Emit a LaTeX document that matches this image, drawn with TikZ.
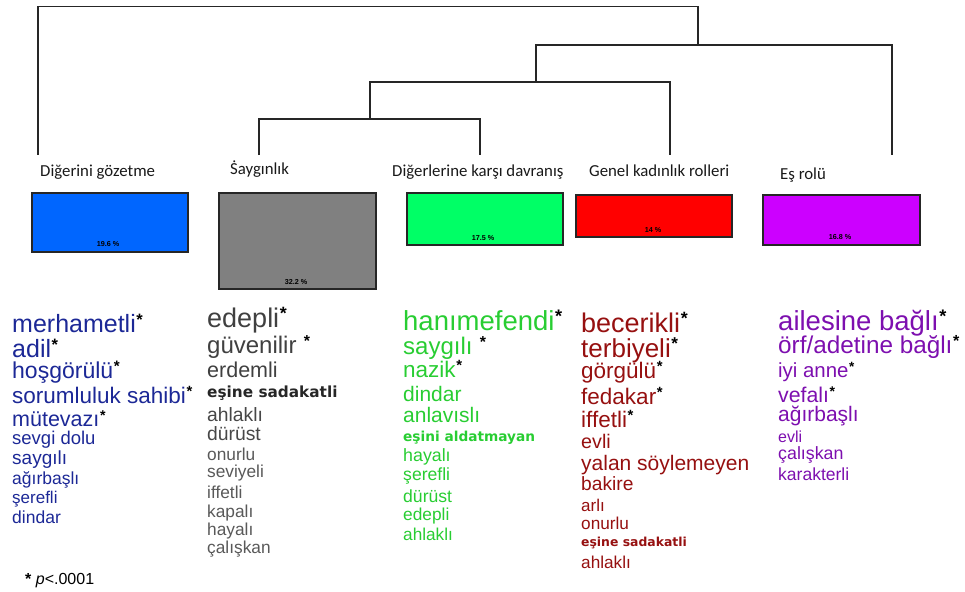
\documentclass[tikz,border=0pt]{standalone}
\usepackage{fontspec}
\setmainfont{Liberation Sans}
\newfontfamily\calfont{Carlito}
\newfontfamily\tahfont{DejaVu Sans}
\definecolor{cblue}{RGB}{0,102,255}
\definecolor{cgray}{RGB}{128,128,128}
\definecolor{cgreen}{RGB}{0,255,102}
\definecolor{cred}{RGB}{255,0,0}
\definecolor{cpurple}{RGB}{204,0,255}
\definecolor{tblue}{RGB}{28,40,150}
\definecolor{tgray}{RGB}{64,64,64}
\definecolor{tgreen}{RGB}{40,205,50}
\definecolor{tred}{RGB}{150,16,16}
\definecolor{tpurple}{RGB}{125,15,175}
\newcommand{\st}{\kern0.6pt\raisebox{0.27em}{\scalebox{0.66}{\color{black}\bfseries *}}}
\newcommand{\fs}[1]{\fontsize{#1}{#1}\selectfont}
\tikzset{
  tree/.style={line width=1.3pt, black!85},
  heading/.style={anchor=base west, inner sep=0pt, text=black!90, font=\calfont\fs{16.8}},
  catbox/.style={draw=black!85, line width=1.4pt},
  pct/.style={inner sep=0pt, font=\bfseries\fs{7.2}},
  word/.style={anchor=base west, inner sep=0pt},
}
\begin{document}
\begin{tikzpicture}[x=1pt,y=-1pt]
\useasboundingbox (0,0) rectangle (965,591);
% headings
\node[heading] (h1) at (40,176) {Diğerini gözetme};
\node[heading] (h2) at (230,174) {Ṡaygınlık};
\node[heading] (h3) at (392,176) {Diğerlerine karşı davranış};
\node[heading] (h4) at (589,176) {Genel kadınlık rolleri};
\node[heading] (h5) at (780,179) {Eş rolü};
% dendrogram leaf tops
\coordinate (l1) at (38,155);
\coordinate (l2) at (259,155);
\coordinate (l3) at (480,155);
\coordinate (l4) at (670,155);
\coordinate (l5) at (892,155);
\coordinate (m23) at (370,119);
\coordinate (m234) at (536,82);
\coordinate (m2345) at (698,45);
\coordinate (top) at (0,6.5);
\draw[tree] (l2) |- (m23 |- 0,119) -| (l3);
\draw[tree, line width=1.8pt] (l2 |- 0,119) -- (l3 |- 0,119);
\draw[tree] (m23) |- (m234 |- 0,82) -| (l4);
\draw[tree] (m234) |- (m2345 |- 0,45) -| (l5);
\draw[tree] (m2345) |- (top -| l1) -- (l1);
% boxes
\draw[catbox, fill=cblue] (32,193) rectangle (188,252);
\node[pct] (p1) at (108,244) {19.6 \%};
\draw[catbox, fill=cgray] (219,193) rectangle (376,289);
\node[pct] (p2) at (296,282) {32.2 \%};
\draw[catbox, fill=cgreen] (407,193) rectangle (563,245);
\node[pct] (p3) at (483,238) {17.5 \%};
\draw[catbox, fill=cred] (576,195) rectangle (732,237);
\node[pct] (p4) at (653,230) {14 \%};
\draw[catbox, fill=cpurple] (763,195) rectangle (920,245);
\node[pct] (p5) at (840,237) {16.8 \%};
% column 1 (blue)
\begin{scope}[every node/.style={word, text=tblue}]
\node (a1) at (12,332) {\fs{25}merhametli\st};
\node (a2) at (12,357) {\fs{25}adil\st};
\node (a3) at (12,378) {\fs{23}hoşgörülü\st};
\node (a4) at (12,403) {\fs{22.5}sorumluluk sahibi\st};
\node (a5) at (12,426) {\fs{21.5}mütevazı\st};
\node (a6) at (12,444) {\fs{18.5}sevgi dolu};
\node (a7) at (12,464) {\fs{19}saygılı};
\node (a8) at (12,484) {\fs{17.5}ağırbaşlı};
\node (a9) at (12,503) {\fs{17}şerefli};
\node (a10) at (12,523) {\fs{17.5}dindar};
\end{scope}
% column 2 (gray)
\begin{scope}[every node/.style={word, text=tgray}]
\node (b1) at (207,327) {\fs{27}edepli\st};
\node (b2) at (207,353) {\fs{24}güvenilir \st};
\node (b3) at (207,377) {\fs{21.5}erdemli};
\node[text=black!85] (b4) at (207,397) {\tahfont\bfseries\fs{15.3}eşine sadakatli};
\node[text=black!72] (b5) at (207,421) {\fs{19.3}ahlaklı};
\node[text=black!72] (b6) at (207,440) {\fs{19.3}dürüst};
\node[text=black!65] (b7) at (207,460) {\fs{17.3}onurlu};
\node[text=black!65] (b8) at (207,477) {\fs{17.3}seviyeli};
\node[text=black!65] (b9) at (207,498) {\fs{17.3}iffetli};
\node[text=black!65] (b10) at (207,517) {\fs{17.3}kapalı};
\node[text=black!65] (b11) at (207,535) {\fs{17.3}hayalı};
\node[text=black!65] (b12) at (207,553) {\fs{17.3}çalışkan};
\end{scope}
% column 3 (green)
\begin{scope}[every node/.style={word, text=tgreen}]
\node (c1) at (403,330) {\fs{27.5}hanımefendi\st};
\node (c2) at (403,354) {\fs{24}saygılı \st};
\node (c3) at (403,377) {\fs{22.5}nazik\st};
\node (c4) at (403,401) {\fs{21}dindar};
\node (c5) at (403,422) {\fs{21}anlavıslı};
\node (c6) at (403,441) {\tahfont\bfseries\fs{13.7}eşini aldatmayan};
\node (c7) at (403,461) {\fs{17.8}hayalı};
\node (c8) at (403,480) {\fs{17.6}şerefli};
\node (c9) at (403,502) {\fs{17.6}dürüst};
\node (c10) at (403,520) {\fs{17.3}edepli};
\node (c11) at (403,540) {\fs{17.2}ahlaklı};
\end{scope}
% column 4 (red)
\begin{scope}[every node/.style={word, text=tred}]
\node (d1) at (581,332) {\fs{27}becerikli\st};
\node (d2) at (581,357) {\fs{26}terbiyeli\st};
\node (d3) at (581,378) {\fs{22.5}görgülü\st};
\node (d4) at (581,404) {\fs{22.5}fedakar\st};
\node (d5) at (581,427) {\fs{22.5}iffetli\st};
\node (d6) at (581,448) {\fs{19.7}evli};
\node (d7) at (581,470) {\fs{21}yalan söylemeyen};
\node (d8) at (581,490) {\fs{19.2}bakire};
\node (d9) at (581,511) {\fs{17}arlı};
\node (d10) at (581,529) {\fs{17.2}onurlu};
\node (d11) at (581,546) {\tahfont\bfseries\fs{12.4}eşine sadakatli};
\node (d12) at (581,568) {\fs{17.2}ahlaklı};
\end{scope}
% column 5 (purple)
\begin{scope}[every node/.style={word, text=tpurple}]
\node (e1) at (778,330) {\fs{27.5}ailesine bağlı\st};
\node (e2) at (778,353) {\fs{24.3}örf/adetine bağlı\st};
\node (e3) at (778,377) {\fs{20.4}iyi anne\st};
\node (e4) at (778,402) {\fs{21.3}vefalı\st};
\node (e5) at (778,421) {\fs{21}ağırbaşlı};
\node (e6) at (778,442) {\fs{16}evli};
\node (e7) at (778,459) {\fs{17.8}çalışkan};
\node (e8) at (778,480) {\fs{17.5}karakterli};
\end{scope}
% footnote
\node[word] (fn) at (25,584) {\fs{16}\textbf{*} \textit{p}<.0001};
\end{tikzpicture}
\end{document}
